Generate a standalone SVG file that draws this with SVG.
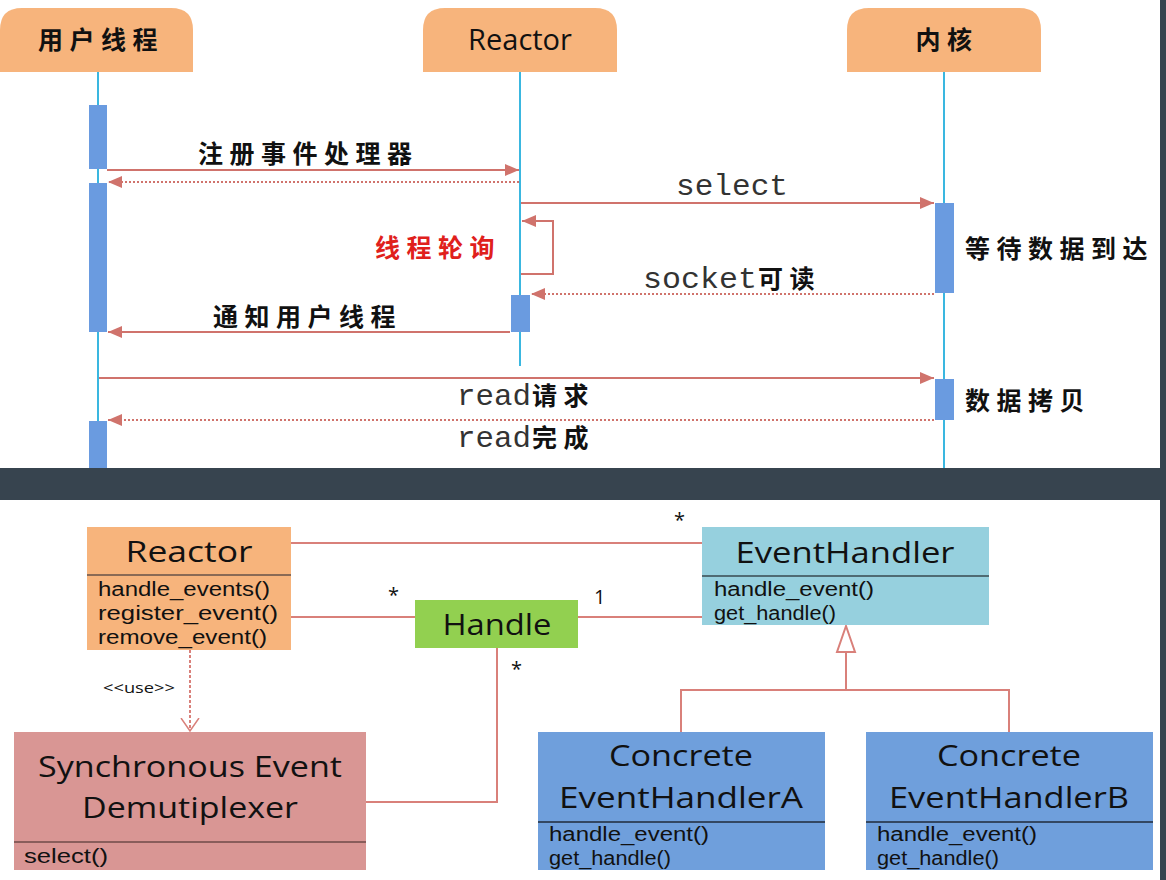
<svg xmlns="http://www.w3.org/2000/svg" width="1166" height="880" viewBox="0 0 1166 880">
<defs>
<marker id="fa" viewBox="0 0 14 12" refX="14" refY="6" markerWidth="14" markerHeight="12" markerUnits="userSpaceOnUse" orient="auto">
<path d="M0,0 L14,6 L0,12 Z" fill="#d0736c"/>
</marker>
<marker id="va" viewBox="0 0 14 20" refX="13" refY="10" markerWidth="14" markerHeight="20" markerUnits="userSpaceOnUse" orient="auto">
<path d="M0,1 L13,10 L0,19" fill="none" stroke="#d9807a" stroke-width="1.5"/>
</marker>
<style>
.hdr{fill:#f7b47c}
.life{stroke:#3ab7e0;stroke-width:2}
.act{fill:#6a9be0}
.msg{stroke:#d0736c;stroke-width:2;fill:none}
.ret{stroke:#d0736c;stroke-width:2;stroke-dasharray:2 2;fill:none}
.cn{font-family:"Noto Sans CJK SC",sans-serif;font-weight:bold;font-size:25px;fill:#111;letter-spacing:6.5px}
.mono{font-family:"Liberation Mono",monospace;font-size:29px;fill:#333}
.uml{font-family:"Open Sans","Noto Sans",sans-serif;fill:#111}
.t{font-size:30px;text-anchor:middle}
.m{font-family:"Liberation Sans",sans-serif;font-size:20px}
.ln{stroke:#d9807a;stroke-width:2;fill:none}
</style>
</defs>
<rect x="0" y="0" width="1166" height="880" fill="#ffffff"/>
<!-- Sequence diagram -->
<g id="hdr-user"><path class="hdr" d="M0,72 V30 Q0,8 22,8 H171 Q193,8 193,30 V72 Z"/><text class="cn" x="101" y="49" text-anchor="middle">用户线程</text></g>
<g id="hdr-reactor"><path class="hdr" d="M423,72 V30 Q423,8 445,8 H595 Q617,8 617,30 V72 Z"/><text class="uml" x="520" y="50" text-anchor="middle" font-size="29">Reactor</text></g>
<g id="hdr-kernel"><path class="hdr" d="M847,72 V30 Q847,8 869,8 H1019 Q1041,8 1041,30 V72 Z"/><text class="cn" x="947" y="49" text-anchor="middle">内核</text></g>
<g id="lifelines">
<line class="life" x1="98" y1="72" x2="98" y2="468"/>
<line class="life" x1="520" y1="72" x2="520" y2="366"/>
<line class="life" x1="944" y1="72" x2="944" y2="468"/>
</g>
<g id="activations">
<rect class="act" x="89" y="105" width="18" height="64"/>
<rect class="act" x="89" y="183" width="18" height="149"/>
<rect class="act" x="89" y="421" width="18" height="47"/>
<rect class="act" x="511" y="295" width="19" height="37"/>
<rect class="act" x="935" y="203" width="19" height="90"/>
<rect class="act" x="935" y="379" width="19" height="41"/>
</g>
<g id="connectors-seq">
<line class="msg" x1="107" y1="170" x2="519" y2="170" marker-end="url(#fa)"/>
<line class="ret" x1="519" y1="182" x2="108" y2="182" marker-end="url(#fa)"/>
<line class="msg" x1="521" y1="203" x2="934" y2="203" marker-end="url(#fa)"/>
<path class="msg" d="M521,274 H553 V221 H522" marker-end="url(#fa)"/>
<line class="ret" x1="934" y1="294" x2="531" y2="294" marker-end="url(#fa)"/>
<line class="msg" x1="510" y1="332" x2="108" y2="332" marker-end="url(#fa)"/>
<line class="msg" x1="99" y1="378" x2="934" y2="378" marker-end="url(#fa)"/>
<line class="ret" x1="934" y1="420" x2="108" y2="420" marker-end="url(#fa)"/>
</g>
<g id="seq-labels">
<text class="cn" x="198" y="163">注册事件处理器</text>
<text class="mono" x="676" y="195" textLength="112" lengthAdjust="spacingAndGlyphs">select</text>
<text class="cn" x="375" y="257" style="fill:#e0201c">线程轮询</text>
<text class="mono" x="643" y="288" textLength="114" lengthAdjust="spacingAndGlyphs">socket</text>
<text class="cn" x="758" y="288" letter-spacing="1">可读</text>
<text class="cn" x="213" y="326">通知用户线程</text>
<text class="mono" x="457" y="405" textLength="74" lengthAdjust="spacingAndGlyphs">read</text>
<text class="cn" x="532" y="405" letter-spacing="1">请求</text>
<text class="mono" x="457" y="447" textLength="74" lengthAdjust="spacingAndGlyphs">read</text>
<text class="cn" x="532" y="447" letter-spacing="1">完成</text>
<text class="cn" x="965" y="258">等待数据到达</text>
<text class="cn" x="965" y="410">数据拷贝</text>
</g>
<!-- separators -->
<rect x="0" y="468" width="1166" height="32" fill="#37444f"/>
<rect x="1160" y="0" width="6" height="880" fill="#37444f"/>
<!-- UML class diagram -->
<g id="uml-connectors">
<line class="ln" x1="291" y1="543" x2="702" y2="543"/>
<line class="ln" x1="291" y1="617" x2="415" y2="617"/>
<line class="ln" x1="578" y1="617" x2="702" y2="617"/>
<path class="ln" d="M497,648 V802 H366"/>
<line class="ln" x1="190" y1="650" x2="190" y2="731" stroke-dasharray="3 2" marker-end="url(#va)"/>
<polygon points="846,626 837,652 855,652" fill="#ffffff" stroke="#d9807a" stroke-width="2"/>
<path class="ln" d="M846,652 V690 M681,732 V690 H1009 V732"/>
<text class="uml" x="674" y="527" font-size="20">*</text>
<text class="uml" x="388" y="602" font-size="20">*</text>
<text class="uml" x="594" y="604" font-size="20">1</text>
<text class="uml" x="511" y="676" font-size="20">*</text>
<text class="uml" x="103" y="693" font-size="15" textLength="72" lengthAdjust="spacingAndGlyphs">&lt;&lt;use&gt;&gt;</text>
</g>
<g id="cls-reactor">
<rect x="87" y="527" width="204" height="123" fill="#f7b47c"/>
<line x1="87" y1="575" x2="291" y2="575" stroke="#8a6a55" stroke-width="2"/>
<text class="uml t" x="189" y="562" textLength="127" lengthAdjust="spacingAndGlyphs">Reactor</text>
<text class="uml m" x="98" y="596" textLength="172" lengthAdjust="spacingAndGlyphs">handle_events()</text>
<text class="uml m" x="98" y="620" textLength="180" lengthAdjust="spacingAndGlyphs">register_event()</text>
<text class="uml m" x="98" y="644" textLength="169" lengthAdjust="spacingAndGlyphs">remove_event()</text>
</g>
<g id="cls-eventhandler">
<rect x="702" y="527" width="287" height="98" fill="#96d0de"/>
<line x1="702" y1="576" x2="989" y2="576" stroke="#4f6b73" stroke-width="2"/>
<text class="uml t" x="845" y="563" textLength="219" lengthAdjust="spacingAndGlyphs">EventHandler</text>
<text class="uml m" x="714" y="596" textLength="160" lengthAdjust="spacingAndGlyphs">handle_event()</text>
<text class="uml m" x="714" y="620" textLength="122" lengthAdjust="spacingAndGlyphs">get_handle()</text>
</g>
<g id="cls-handle">
<rect x="415" y="600" width="163" height="48" fill="#92d050"/>
<text class="uml t" x="497" y="635" textLength="109" lengthAdjust="spacingAndGlyphs">Handle</text>
</g>
<g id="cls-demux">
<rect x="14" y="732" width="352" height="138" fill="#d99694"/>
<line x1="14" y1="842" x2="366" y2="842" stroke="#6e4a49" stroke-width="1.5"/>
<text class="uml t" x="190" y="777" textLength="304" lengthAdjust="spacingAndGlyphs">Synchronous Event</text>
<text class="uml t" x="190" y="818" textLength="216" lengthAdjust="spacingAndGlyphs">Demutiplexer</text>
<text class="uml m" x="24" y="863" textLength="84" lengthAdjust="spacingAndGlyphs">select()</text>
</g>
<g id="cls-concrete-a">
<rect x="538" y="732" width="287" height="138" fill="#6f9fdc"/>
<line x1="538" y1="822" x2="825" y2="822" stroke="#1f2a3a" stroke-width="1.5"/>
<text class="uml t" x="681" y="766" textLength="144" lengthAdjust="spacingAndGlyphs">Concrete</text>
<text class="uml t" x="681" y="808" textLength="244" lengthAdjust="spacingAndGlyphs">EventHandlerA</text>
<text class="uml m" x="549" y="841" textLength="160" lengthAdjust="spacingAndGlyphs">handle_event()</text>
<text class="uml m" x="549" y="865" textLength="122" lengthAdjust="spacingAndGlyphs">get_handle()</text>
</g>
<g id="cls-concrete-b">
<rect x="866" y="732" width="287" height="138" fill="#6f9fdc"/>
<line x1="866" y1="822" x2="1153" y2="822" stroke="#1f2a3a" stroke-width="1.5"/>
<text class="uml t" x="1009" y="766" textLength="144" lengthAdjust="spacingAndGlyphs">Concrete</text>
<text class="uml t" x="1009" y="808" textLength="240" lengthAdjust="spacingAndGlyphs">EventHandlerB</text>
<text class="uml m" x="877" y="841" textLength="160" lengthAdjust="spacingAndGlyphs">handle_event()</text>
<text class="uml m" x="877" y="865" textLength="122" lengthAdjust="spacingAndGlyphs">get_handle()</text>
</g>
</svg>
